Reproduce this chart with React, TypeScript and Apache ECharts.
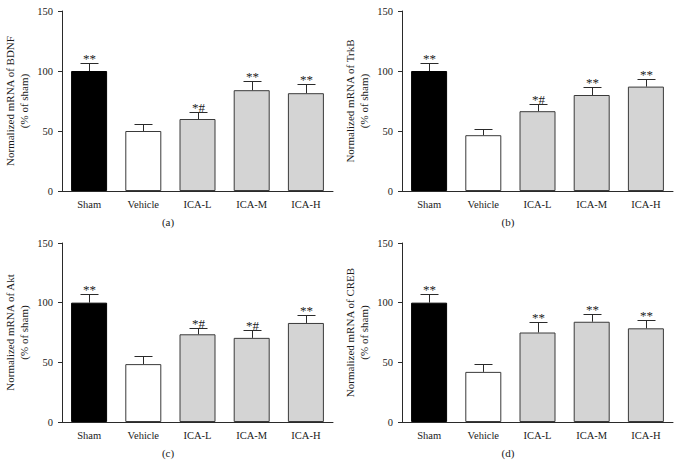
import React, { useEffect, useRef } from "react";
import * as echarts from "echarts";

const categories = ["Sham", "Vehicle", "ICA-L", "ICA-M", "ICA-H"];

const bdnfMean = [100, 50, 60, 84, 81.5];
const bdnfSem = [7, 6, 5.5, 8, 7.5];
const bdnfSig = ["**", "", "*#", "**", "**"];

const trkbMean = [100, 46.5, 66.5, 80, 87];
const trkbSem = [7, 5, 6, 7, 6];
const trkbSig = ["**", "", "*#", "**", "**"];

const aktMean = [100, 48.5, 73.5, 70.5, 83];
const aktSem = [7, 6.5, 5.5, 6.5, 7];
const aktSig = ["**", "", "*#", "*#", "**"];

const crebMean = [100, 42, 75, 84, 78.5];
const crebSem = [7, 7, 9, 6.5, 7];
const crebSig = ["**", "", "**", "**", "**"];

const yTickMin = 0;
const yTickMax = 150;
const yTickStep = 50;

const panels = [
  { name: "Normalized mRNA of BDNF", mean: bdnfMean, sem: bdnfSem, sig: bdnfSig, tag: "(a)" },
  { name: "Normalized mRNA of TrkB", mean: trkbMean, sem: trkbSem, sig: trkbSig, tag: "(b)" },
  { name: "Normalized mRNA of Akt", mean: aktMean, sem: aktSem, sig: aktSig, tag: "(c)" },
  { name: "Normalized mRNA of CREB", mean: crebMean, sem: crebSem, sig: crebSig, tag: "(d)" },
];

const FONT = "Liberation Serif";
const barFill = ["#000000", "#ffffff", "#d4d4d4", "#d4d4d4", "#d4d4d4"];
const barBorder = ["#000000", "#3a3a3a", "#3a3a3a", "#3a3a3a", "#3a3a3a"];
const gridPos = [
  { left: 62, top: 11, width: 271, height: 180 },
  { left: 402, top: 11, width: 271, height: 180 },
  { left: 62, top: 243, width: 271, height: 179 },
  { left: 402, top: 243, width: 271, height: 179 },
];
const tagPos = [
  { x: 168, y: 222 },
  { x: 508, y: 222 },
  { x: 168, y: 453 },
  { x: 508, y: 453 },
];

export default function App() {
  const ref = useRef<HTMLDivElement>(null);
  useEffect(() => {
    if (!ref.current) return;
    const chart = echarts.init(ref.current, null, { renderer: "svg" });
    const axisColor = "#2a2a2a";
    const grids: any[] = [];
    const xAxes: any[] = [];
    const yAxes: any[] = [];
    const series: any[] = [];
    const graphics: any[] = [];
    panels.forEach((p, k) => {
      grids.push({ ...gridPos[k], containLabel: false });
      xAxes.push({
        type: "category",
        gridIndex: k,
        data: categories,
        axisLine: { lineStyle: { color: axisColor, width: 1 } },
        axisTick: { alignWithLabel: true, length: 4, lineStyle: { color: axisColor } },
        axisLabel: { color: "#1a1a1a", fontFamily: FONT, fontSize: 10.5, margin: 8 },
      });
      yAxes.push({
        type: "value",
        gridIndex: k,
        min: yTickMin,
        max: yTickMax,
        interval: yTickStep,
        splitLine: { show: false },
        axisLine: { show: true, lineStyle: { color: axisColor, width: 1 } },
        axisTick: { show: true, length: 4, lineStyle: { color: axisColor } },
        axisLabel: { color: "#1a1a1a", fontFamily: FONT, fontSize: 10.5, margin: 9 },
        name: p.name + "\n(% of sham)",
        nameLocation: "middle",
        nameRotate: 90,
        nameGap: 31,
        nameTextStyle: { color: "#1a1a1a", fontFamily: FONT, fontSize: 11, lineHeight: 14 },
      });
      series.push({
        type: "bar",
        xAxisIndex: k,
        yAxisIndex: k,
        barWidth: 36,
        data: p.mean.map((v, i) => ({
          value: v,
          itemStyle: { color: barFill[i], borderColor: barBorder[i], borderWidth: 1 },
        })),
        z: 2,
      });
      series.push({
        type: "custom",
        xAxisIndex: k,
        yAxisIndex: k,
        z: 3,
        data: p.mean.map((v, i) => [i, v, p.sem[i]]),
        renderItem: (params: any, api: any) => {
          const idx = api.value(0);
          const m = api.value(1);
          const s = api.value(2);
          const base = api.coord([idx, m]);
          const top = api.coord([idx, m + s]);
          const cx = Math.round(base[0]) + 0.5;
          const ty = Math.round(top[1]) + 0.5;
          const stroke = { stroke: "#2a2a2a", lineWidth: 1 };
          return {
            type: "group",
            children: [
              { type: "line", shape: { x1: cx, y1: base[1], x2: cx, y2: ty }, style: stroke },
              { type: "line", shape: { x1: cx - 9, y1: ty, x2: cx + 9, y2: ty }, style: stroke },
              {
                type: "text",
                style: {
                  text: p.sig[params.dataIndex],
                  x: cx,
                  y: ty + 1,
                  align: "center",
                  verticalAlign: "bottom",
                  fontFamily: FONT,
                  fontSize: 13,
                  fill: "#1a1a1a",
                },
              },
            ],
          };
        },
      });
      graphics.push({
        type: "text",
        x: tagPos[k].x,
        y: tagPos[k].y,
        style: {
          text: p.tag,
          align: "center",
          verticalAlign: "middle",
          fontFamily: FONT,
          fontSize: 11,
          fill: "#1a1a1a",
        },
      });
    });
    chart.setOption({
      animation: false,
      backgroundColor: "#ffffff",
      grid: grids,
      xAxis: xAxes,
      yAxis: yAxes,
      series,
      graphic: graphics,
    });
    return () => chart.dispose();
  }, []);
  return (
    <div
      ref={ref}
      style={{ position: "fixed", left: 0, top: 0, width: 680, height: 476, background: "#fff" }}
    />
  );
}
